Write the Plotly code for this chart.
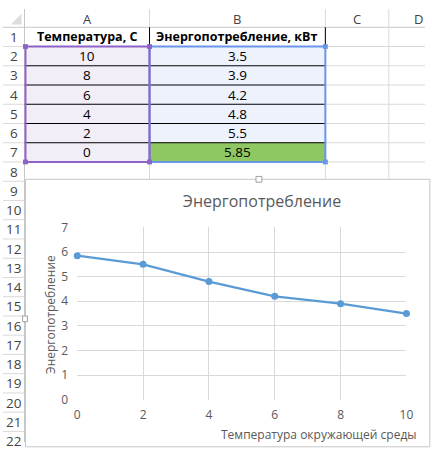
import plotly.graph_objects as go

# table / chart data
temperature = [10, 8, 6, 4, 2, 0]
energy = [3.5, 3.9, 4.2, 4.8, 5.5, 5.85]
headers = ["Температура, С", "Энергопотребление, кВт"]
column_letters = ["A", "B", "C", "D"]
row_numbers = list(range(1, 23))

chart_title = "Энергопотребление"
x_title = "Температура окружающей среды"
y_title = "Энергопотребление"
x_ticks = [0, 2, 4, 6, 8, 10]
y_ticks = [0, 1, 2, 3, 4, 5, 6, 7]

W, H = 432, 450
HEAD_H = 19      # column header height
ROW_H = 20
ROWHEAD_W = 22
col_edges = [22, 150, 330, 395, 455]
CHART_TOP = 177

GRID = "#d9d9d9"
HEAD_TXT = "#444444"
PURPLE = "#8e62c8"
BLUE = "#6a96ea"
FONT = "Open Sans"


def px(x):
    return x / W


def py(y):
    return 1 - y / H


shapes = []
annotations = []


def rect(x0, y0, x1, y1, fill=None, line="rgba(0,0,0,0)", width=0):
    shapes.append(dict(type="rect", xref="paper", yref="paper",
                       x0=px(x0), x1=px(x1), y0=py(y0), y1=py(y1),
                       fillcolor=fill, line=dict(color=line, width=width),
                       layer="below"))


def seg(x0, y0, x1, y1, color, width=1):
    shapes.append(dict(type="line", xref="paper", yref="paper",
                       x0=px(x0), x1=px(x1), y0=py(y0), y1=py(y1),
                       line=dict(color=color, width=width), layer="below"))


def text(x, y, s, size=13, color="#000000", bold=False, anchor="center"):
    if bold:
        s = "<b>" + s + "</b>"
    annotations.append(dict(xref="paper", yref="paper", x=px(x), y=py(y),
                            text=s, showarrow=False, xanchor=anchor,
                            yanchor="middle",
                            font=dict(family=FONT, size=size, color=color)))


def row_center(n):
    return HEAD_H + ROW_H * (n - 1) + ROW_H / 2


# headers
shapes.append(dict(type="path", xref="paper", yref="paper", layer="below",
                   path="M %f,%f L %f,%f L %f,%f Z" % (px(19), py(5), px(19), py(16), px(8), py(16)),
                   fillcolor="#dcdcdc", line=dict(width=0)))
seg(0, HEAD_H, W, HEAD_H, "#c6c6c6")
seg(ROWHEAD_W, 0, ROWHEAD_W, H, "#c6c6c6")
for xe in col_edges[1:]:
    seg(xe, 0, xe, HEAD_H, GRID)
for i, letter in enumerate(column_letters):
    text((col_edges[i] + col_edges[i + 1]) / 2, 10, letter, size=13, color=HEAD_TXT)
for n in row_numbers:
    seg(0, HEAD_H + ROW_H * n, ROWHEAD_W, HEAD_H + ROW_H * n, GRID)
    text(11, row_center(n), str(n), size=13.5, color=HEAD_TXT)

# sheet grid (rows 1-8)
for n in range(1, 8):
    seg(ROWHEAD_W, HEAD_H + ROW_H * n, W, HEAD_H + ROW_H * n, GRID)
for xe in col_edges[1:]:
    seg(xe, HEAD_H, xe, CHART_TOP, GRID)

# cell fills
n_rows = len(temperature)
top = HEAD_H + ROW_H
rect(ROWHEAD_W, top, col_edges[1], top + ROW_H * n_rows, fill="#f1eef8")
rect(col_edges[1], top, col_edges[2], top + ROW_H * (n_rows - 1), fill="#edf2fc")
rect(col_edges[1], top + ROW_H * (n_rows - 1), col_edges[2], top + ROW_H * n_rows, fill="#8fc862")

# black cell borders
for k in range(n_rows - 1):
    y = top + ROW_H * (k + 1)
    seg(ROWHEAD_W, y, col_edges[2], y, "#000000", 1)
seg(col_edges[1], HEAD_H, col_edges[1], top, "#000000", 1)
seg(col_edges[2], HEAD_H, col_edges[2], top, "#000000", 1)

# selection borders + handles
bottom = top + ROW_H * n_rows
rect(col_edges[1], top, col_edges[2], bottom, line=BLUE, width=2)
rect(ROWHEAD_W + 1, top, col_edges[1], bottom, line=PURPLE, width=2)
for (hx, hy, c) in [(col_edges[2], top, BLUE), (col_edges[2], bottom, BLUE),
                    (ROWHEAD_W + 1, top, PURPLE), (col_edges[1], top, PURPLE),
                    (ROWHEAD_W + 1, bottom, PURPLE), (col_edges[1], bottom, PURPLE)]:
    rect(hx - 2.5, hy - 2.5, hx + 2.5, hy + 2.5, fill=c)

# cell text
cx_a = (col_edges[0] + col_edges[1]) / 2
cx_b = (col_edges[1] + col_edges[2]) / 2
text(cx_a, row_center(1), headers[0], size=12.5, bold=True)
text(cx_b, row_center(1), headers[1], size=12.5, bold=True)
for i, (t, e) in enumerate(zip(temperature, energy)):
    text(cx_a, row_center(i + 2), str(t), size=13.5)
    text(cx_b, row_center(i + 2), str(e), size=13.5)

# chart area
rect(ROWHEAD_W + 1, CHART_TOP, W + 5, H + 5, fill="#ffffff", line="#c6c6c6", width=1)
rect(259, CHART_TOP - 3, 265, CHART_TOP + 3, fill="#ffffff", line="#a0a0a0", width=1)
rect(ROWHEAD_W - 2, 319, ROWHEAD_W + 3, 325, fill="#ffffff", line="#a0a0a0", width=1)

text(323, 442, x_title, size=12, color="#595959")
annotations.append(dict(xref="paper", yref="paper", x=px(48), y=py(317),
                        text=y_title, textangle=-90, showarrow=False,
                        xanchor="center", yanchor="middle",
                        font=dict(family=FONT, size=12, color="#595959")))

fig = go.Figure(go.Scatter(
    x=temperature, y=energy, mode="lines+markers",
    line=dict(color="#5b9bd5", width=2.25),
    marker=dict(color="#5b9bd5", size=7),
    cliponaxis=False, hoverinfo="x+y"))

fig.update_layout(
    width=W, height=H,
    margin=dict(l=0, r=0, t=0, b=0),
    paper_bgcolor="#ffffff", plot_bgcolor="rgba(0,0,0,0)",
    showlegend=False,
    title=dict(text=chart_title, x=px(262), y=py(201), xanchor="center",
               yanchor="middle", font=dict(family=FONT, size=16, color="#595959")),
    shapes=shapes, annotations=annotations,
    xaxis=dict(domain=[px(76), px(413)], range=[0, 10], tickvals=x_ticks,
               showgrid=True, gridcolor="#d9d9d9", zeroline=False,
               showline=False, ticks="", ticklabelstandoff=6,
               tickfont=dict(family=FONT, size=12, color="#595959")),
    yaxis=dict(domain=[py(406), py(227)], range=[0, 7], tickvals=y_ticks,
               showgrid=True, gridcolor="#d9d9d9", zeroline=False,
               showline=False, ticks="", ticklabelstandoff=8,
               tickfont=dict(family=FONT, size=12, color="#595959")),
)

# drop the default page margin so the 432x450 figure fills the window
fig.write_html("out.html", config={"displayModeBar": False},
               post_script="document.body.style.margin='0';document.body.style.overflow='hidden';")
